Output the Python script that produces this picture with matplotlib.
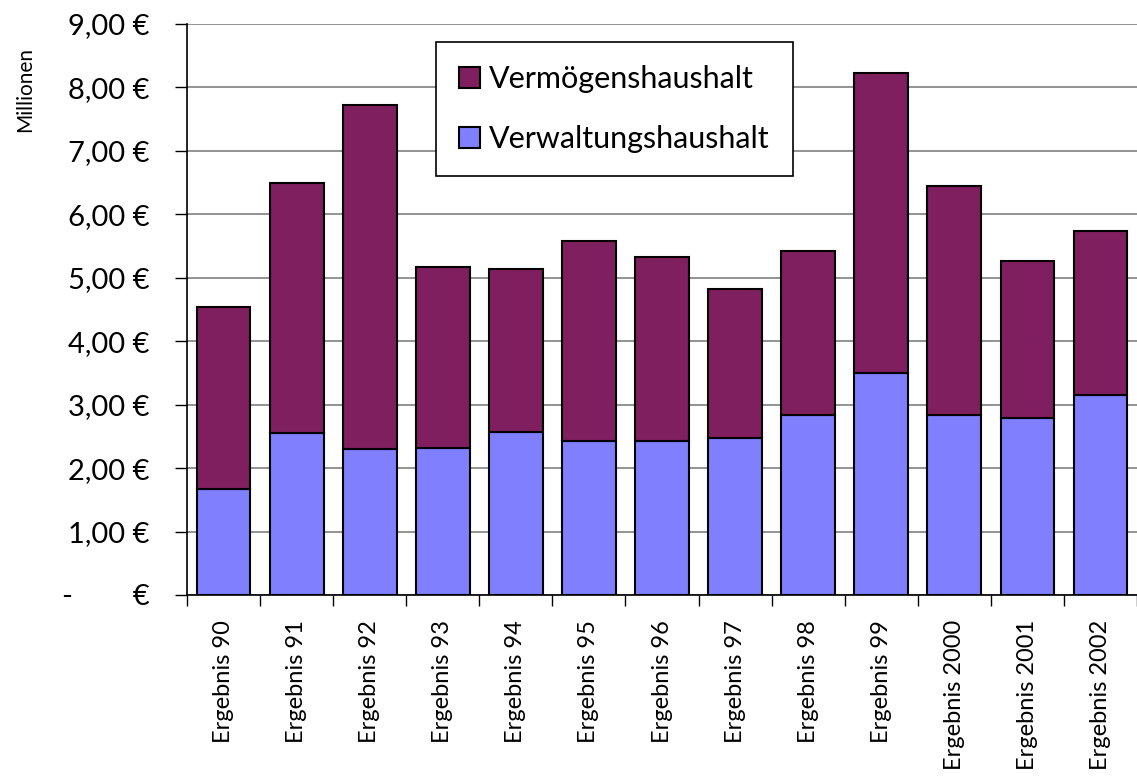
import matplotlib
matplotlib.use("Agg")
import matplotlib.pyplot as plt
import numpy as np

# values in Mio. EUR
years = ["90", "91", "92", "93", "94", "95", "96", "97", "98", "99", "2000", "2001", "2002"]
verwaltung = [1.67, 2.55, 2.30, 2.32, 2.57, 2.43, 2.43, 2.48, 2.84, 3.50, 2.84, 2.79, 3.15]
gesamt = [4.54, 6.50, 7.73, 5.17, 5.14, 5.58, 5.33, 4.83, 5.43, 8.23, 6.44, 5.27, 5.74]
vermoegen = [g - v for g, v in zip(gesamt, verwaltung)]
labels = ["Ergebnis " + y for y in years]

plt.rcParams["font.family"] = ["Lato", "DejaVu Sans"]

fig = plt.figure(figsize=(11.37, 7.8), dpi=100)
ax = fig.add_axes([0.1645, 0.2372, 0.8355, 0.732])

x = np.arange(len(years))
ax.bar(x, verwaltung, width=0.735, color="#8080ff", edgecolor="black", linewidth=1.5,
       label="Verwaltungshaushalt", zorder=3)
ax.bar(x, vermoegen, bottom=verwaltung, width=0.735, color="#7f1f5f", edgecolor="black",
       linewidth=1.5, label="Vermögenshaushalt", zorder=3)

ax.set_ylim(0, 9)
ax.set_xlim(-0.5, 12.43)
ax.set_yticks(np.arange(0, 10, 1))
ax.set_yticklabels(["-        €"] + ["%d,00 €" % i for i in range(1, 10)], fontsize=21)
ax.yaxis.grid(True, color="#808080", linewidth=1.2, zorder=0)

# category labels in the middle, tick marks on the boundaries
ax.set_xticks(x)
ax.set_xticklabels(labels, rotation=90, fontsize=17)
ax.tick_params(axis="x", length=0, pad=18)
ax.set_xticks(np.arange(-0.5, 13, 1), minor=True)
ax.tick_params(axis="x", which="minor", length=8, width=1, direction="out")
ax.tick_params(axis="y", length=9, width=1, direction="out", pad=18)

ax.spines["top"].set_visible(False)
ax.spines["right"].set_visible(False)
ax.spines["left"].set_linewidth(1.2)
ax.spines["bottom"].set_linewidth(1.2)

fig.text(0.022, 0.885, "Millionen", rotation=90, fontsize=15, ha="center", va="center")

handles, lbls = ax.get_legend_handles_labels()
leg = ax.legend(handles[::-1], lbls[::-1], loc="upper left", bbox_to_anchor=(0.262, 0.968),
                fontsize=22, frameon=True, fancybox=False, handlelength=0.7, handleheight=0.7,
                borderpad=0.75, labelspacing=1.05, handletextpad=0.3, borderaxespad=0)
leg.get_frame().set_edgecolor("black")
leg.get_frame().set_linewidth(1.2)
leg.get_frame().set_alpha(1)

fig.savefig("out.png", dpi=100)
plt.close(fig)
